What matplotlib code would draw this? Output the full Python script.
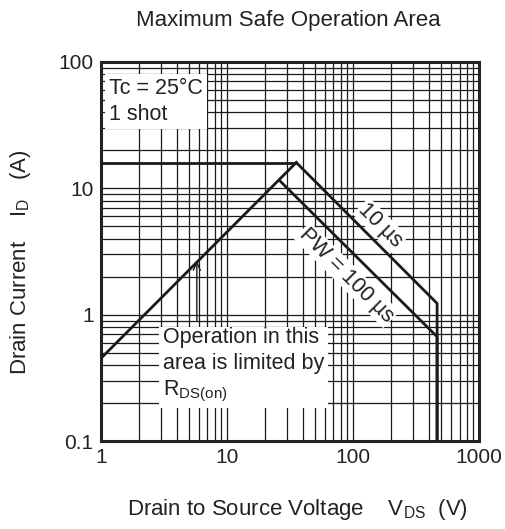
import matplotlib
matplotlib.use('Agg')
import matplotlib.pyplot as plt
from matplotlib.ticker import LogLocator, NullFormatter, FixedLocator

plt.rcParams['font.family'] = ['Liberation Sans', 'DejaVu Sans']
plt.rcParams['mathtext.default'] = 'regular'

# SOA boundary points (V_DS in V, I_D in A)
rds_v = [1, 35.5]
rds_i = [0.45, 16]
dc_v = [1, 35.5]
dc_i = [16, 16]
pw10_v = [35.5, 464, 464]
pw10_i = [16, 1.23, 0.1]
pw100_v = [26, 464, 464]
pw100_i = [11.6, 0.67, 0.1]

x_ticks = [1, 10, 100, 1000]
y_ticks = [0.1, 1, 10, 100]

fig = plt.figure(figsize=(5.06, 5.29), dpi=100)
ax = fig.add_axes([0.199, 0.166, 0.748, 0.717])
ax.set_xscale('log')
ax.set_yscale('log')
ax.set_xlim(1, 1000)
ax.set_ylim(0.1, 100)

ax.xaxis.set_major_locator(FixedLocator(x_ticks))
ax.yaxis.set_major_locator(FixedLocator(y_ticks))
ax.set_xticklabels(['1', '10', '100', '1000'])
ax.set_yticklabels(['0.1', '1', '10', '100'])
ax.xaxis.set_minor_locator(LogLocator(base=10, subs=range(2, 10)))
ax.yaxis.set_minor_locator(LogLocator(base=10, subs=range(2, 10)))
ax.xaxis.set_minor_formatter(NullFormatter())
ax.yaxis.set_minor_formatter(NullFormatter())
ax.tick_params(which='both', length=0, labelsize=15, colors='#222222', pad=5)
ax.grid(True, which='both', color='#1a1a1a', linewidth=0.9)
ax.set_axisbelow(True)
for s in ax.spines.values():
    s.set_linewidth(2.2)
    s.set_color('#222222')

lk = dict(color='#1a1a1a', linewidth=2, zorder=5)
ax.plot(rds_v, rds_i, **lk)
ax.plot(dc_v, dc_i, **lk)
ax.plot(pw10_v, pw10_i, **lk)
ax.plot(pw100_v, pw100_i, **lk)

box = dict(facecolor='white', edgecolor='none', pad=3)
ax.text(1.16, 74, 'Tc = 25°C\n1 shot', fontsize=15.5, va='top', ha='left',
        linespacing=1.3, bbox=box, zorder=4, color='#222222')
ax.text(3.1, 0.8, 'Operation in this\narea is limited by\nR$_{DS(on)}$', fontsize=15.5,
        va='top', ha='left', linespacing=1.3, bbox=box, zorder=4, color='#222222')
ax.text(165, 5.1, '10 µs', fontsize=15.5, rotation=-45, ha='center', va='center',
        bbox=dict(facecolor='white', edgecolor='none', pad=1), zorder=6, color='#222222')
ax.text(89, 2.06, 'PW = 100 µs', fontsize=15.5, rotation=-45, ha='center', va='center',
        bbox=dict(facecolor='white', edgecolor='none', pad=1), zorder=6, color='#222222')

ax.annotate('', xy=(5.78, 2.7), xytext=(5.78, 0.9),
            arrowprops=dict(arrowstyle='->,head_length=0.6,head_width=0.25',
                            color='#1a1a1a', lw=1.0, shrinkA=0, shrinkB=0),
            zorder=7)

fig.text(0.569, 0.962, 'Maximum Safe Operation Area', fontsize=16, ha='center',
         va='center', color='#222222')
fig.text(0.587, 0.036, 'Drain to Source Voltage    V$_{DS}$  (V)', fontsize=16,
         ha='center', va='center', color='#222222')
fig.text(0.04, 0.505, 'Drain Current    I$_D$   (A)', fontsize=16, ha='center',
         va='center', rotation=90, color='#222222')

fig.savefig('out.png', dpi=100)
